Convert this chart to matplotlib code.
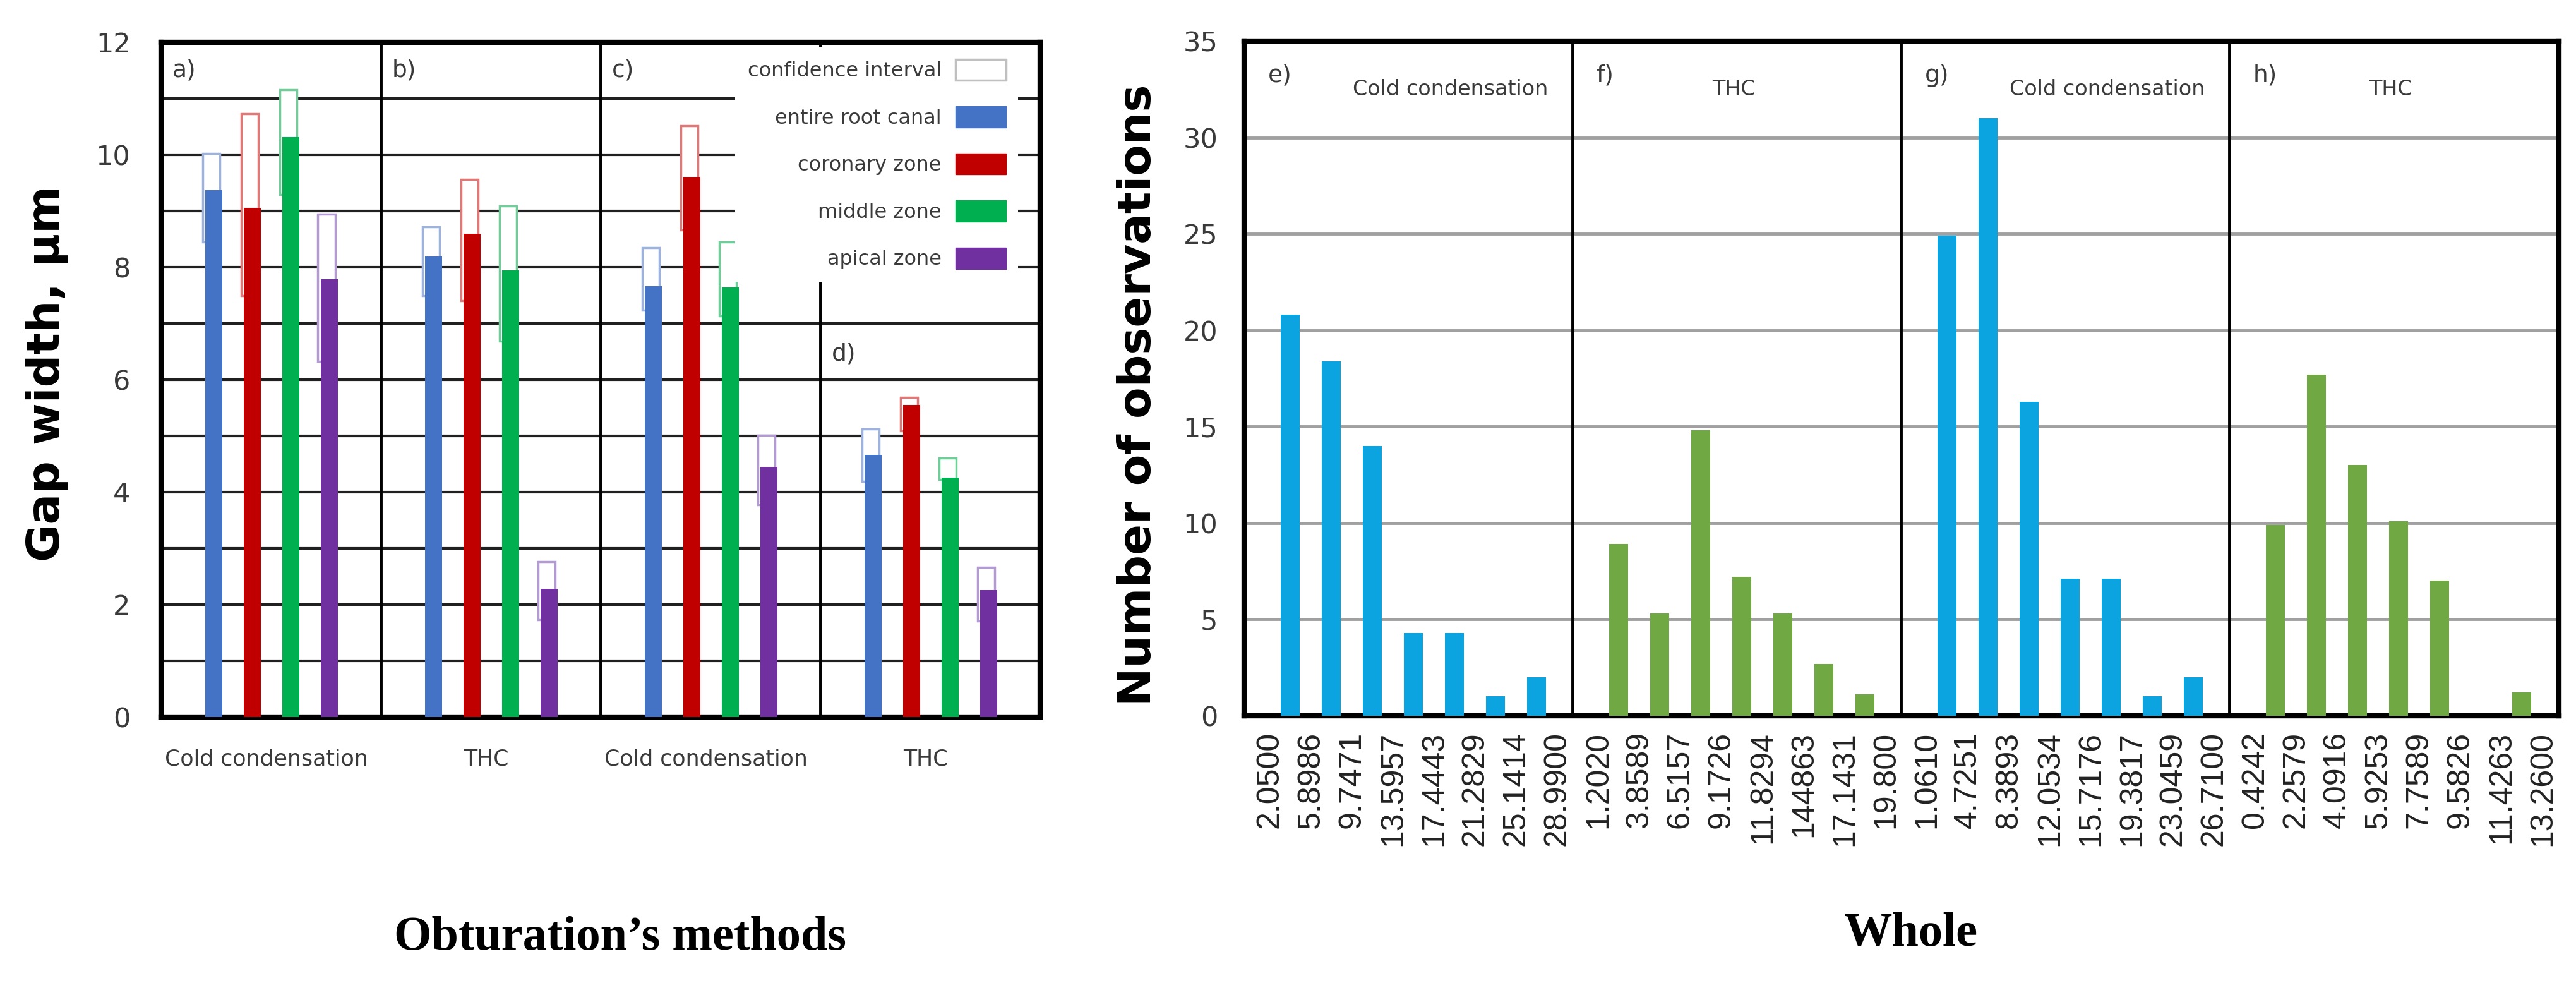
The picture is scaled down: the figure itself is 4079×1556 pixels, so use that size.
import numpy as np
import matplotlib
matplotlib.use('Agg')
from matplotlib import pyplot as plt
from matplotlib.patches import Patch

# left chart: gap width per obturation method and zone
groups = ['Cold condensation', 'THC', 'Cold condensation', 'THC']
group_tags = ['a)', 'b)', 'c)', 'd)']
zones = ['entire root canal', 'coronary zone', 'middle zone', 'apical zone']

mean_entire = [9.37, 8.19, 7.66, 4.66]
mean_coronary = [9.06, 8.59, 9.61, 5.55]
mean_middle = [10.31, 7.94, 7.64, 4.26]
mean_apical = [7.79, 2.28, 4.45, 2.26]

ci_low_entire = [8.45, 7.49, 7.24, 4.19]
ci_high_entire = [10.02, 8.72, 8.35, 5.12]
ci_low_coronary = [7.49, 7.40, 8.66, 5.09]
ci_high_coronary = [10.73, 9.56, 10.52, 5.69]
ci_low_middle = [9.29, 6.68, 7.13, 4.22]
ci_high_middle = [11.16, 9.09, 8.45, 4.61]
ci_low_apical = [6.33, 1.73, 3.78, 1.71]
ci_high_apical = [8.94, 2.76, 5.01, 2.66]

zone_colors = ['#4472C4', '#C00000', '#00B050', '#7030A0']
ci_colors = ['#9DB3DE', '#E07878', '#70CC98', '#B49AD3']

# right chart: histograms of gap width
hist_tags = ['e)', 'f)', 'g)', 'h)']
hist_titles = ['Cold condensation', 'THC', 'Cold condensation', 'THC']
edges_e = ['2.0500', '5.8986', '9.7471', '13.5957', '17.4443', '21.2829', '25.1414', '28.9900']
edges_f = ['1.2020', '3.8589', '6.5157', '9.1726', '11.8294', '144863', '17.1431', '19.800']
edges_g = ['1.0610', '4.7251', '8.3893', '12.0534', '15.7176', '19.3817', '23.0459', '26.7100']
edges_h = ['0.4242', '2.2579', '4.0916', '5.9253', '7.7589', '9.5826', '11.4263', '13.2600']
counts_e = [20.8, 18.4, 14.0, 4.3, 4.3, 1.0, 2.0]
counts_f = [8.9, 5.3, 14.8, 7.2, 5.3, 2.7, 1.1]
counts_g = [24.9, 31.0, 16.3, 7.1, 7.1, 1.0, 2.0]
counts_h = [9.9, 17.7, 13.0, 10.1, 7.0, 0.0, 1.2]
hist_colors = ['#0BA3E0', '#70A844', '#0BA3E0', '#70A844']

text_gray = '#3a3a3a'

fig = plt.figure(figsize=(40.8, 15.56), dpi=100)
ax1 = fig.add_axes([0.0625, 0.2706, 0.3412, 0.6864])
ax2 = fig.add_axes([0.4828, 0.2719, 0.5103, 0.6863])

# ---- left chart ----
means = [mean_entire, mean_coronary, mean_middle, mean_apical]
lows = [ci_low_entire, ci_low_coronary, ci_low_middle, ci_low_apical]
highs = [ci_high_entire, ci_high_coronary, ci_high_middle, ci_high_apical]
group_x = np.arange(len(groups))
bar_w = 0.078
for k in range(len(zones)):
    xs = group_x + 0.24 + k * 0.175
    lo = np.array(lows[k])
    hi = np.array(highs[k])
    ax1.bar(xs - 0.012, hi - lo, bottom=lo, width=bar_w, facecolor='white',
            edgecolor=ci_colors[k], linewidth=2.5, zorder=3)
    ax1.bar(xs, means[k], width=bar_w, color=zone_colors[k], zorder=4)

ax1.set_xlim(0, len(groups))
ax1.set_ylim(0, 12)
ax1.set_yticks(np.arange(0, 13, 2))
ax1.set_yticks(np.arange(1, 12, 2), minor=True)
ax1.yaxis.grid(True, which='both', color='#202020', linewidth=3)
ax1.set_axisbelow(True)
for g in range(1, len(groups)):
    ax1.axvline(g, color='black', linewidth=3.5, zorder=1)
ax1.set_xticks(group_x + 0.48)
ax1.set_xticklabels(groups, fontsize=25, color=text_gray)
ax1.tick_params(axis='both', which='both', length=0)
ax1.tick_params(axis='x', pad=36)
ax1.tick_params(axis='y', pad=35, labelsize=31, labelcolor=text_gray)
for s in ax1.spines.values():
    s.set_linewidth(6)
    s.set_color('black')

for g, tag in enumerate(group_tags):
    ty = 6.45 if tag == 'd)' else 11.5
    ax1.text(g + 0.05, ty, tag, fontsize=27, color=text_gray, ha='left', va='center', zorder=5)

handles = [Patch(facecolor='white', edgecolor='#c0c0c0', linewidth=2.5, label='confidence interval')]
handles += [Patch(facecolor=c, edgecolor=c, label=z) for c, z in zip(zone_colors, zones)]
leg = ax1.legend(handles=handles, loc='upper right', bbox_to_anchor=(0.975, 0.993),
                 markerfirst=False, frameon=True, fancybox=False, edgecolor='none',
                 facecolor='white', framealpha=1, fontsize=23, handlelength=2.5,
                 handleheight=1.25, labelspacing=1.25, handletextpad=0.7,
                 borderpad=0.6, borderaxespad=0)
leg.set_zorder(10)
for t in leg.get_texts():
    t.set_color(text_gray)

# ---- right chart ----
all_edges = [edges_e, edges_f, edges_g, edges_h]
all_counts = [counts_e, counts_f, counts_g, counts_h]
n_edges = len(edges_e)
tick_pos = []
tick_lab = []
for p in range(4):
    base = p * n_edges
    tick_pos += list(base + np.arange(n_edges))
    tick_lab += all_edges[p]
    ax2.bar(base + np.arange(len(all_counts[p])) + 0.5, all_counts[p], width=0.46,
            color=hist_colors[p], zorder=3)
    ax2.text(base - 0.05, 33.2, hist_tags[p], fontsize=27, color=text_gray,
             ha='left', va='center')
    title_x = 4.4 if hist_titles[p] == 'Cold condensation' else 3.3
    ax2.text(base + title_x, 32.5, hist_titles[p], fontsize=24, color=text_gray,
             ha='center', va='center')
    if p > 0:
        ax2.axvline(base - 0.63, color='black', linewidth=3.5, zorder=4)

ax2.set_xlim(-0.63, 4 * n_edges - 0.6)
ax2.set_ylim(0, 35)
ax2.set_yticks(np.arange(0, 36, 5))
ax2.yaxis.grid(True, color='#a0a0a0', linewidth=3.5)
ax2.set_axisbelow(True)
ax2.set_xticks(tick_pos)
ax2.set_xticklabels(tick_lab, rotation=90, fontsize=36, family='Liberation Sans', color='#222222')
ax2.tick_params(axis='both', which='both', length=0)
ax2.tick_params(axis='x', pad=18)
ax2.tick_params(axis='y', pad=30, labelsize=31, labelcolor=text_gray)
for s in ax2.spines.values():
    s.set_linewidth(6)
    s.set_color('black')

# axis titles
fig.text(75 / 4080, 0.62, 'Gap width, µm', rotation=90, ha='center', va='center',
         fontsize=52, fontweight='bold', color='black')
fig.text(1803 / 4080, 0.598, 'Number of observations', rotation=90, ha='center',
         va='center', fontsize=52, fontweight='bold', color='black')
fig.text(982 / 4080, 1 - 1485 / 1556, 'Obturation’s methods', ha='center', va='center',
         fontsize=55, fontweight='bold', family='Liberation Serif')
fig.text(3026 / 4080, 1 - 1478 / 1556, 'Whole', ha='center', va='center',
         fontsize=55, fontweight='bold', family='Liberation Serif')

fig.savefig('out.png', dpi=100)
